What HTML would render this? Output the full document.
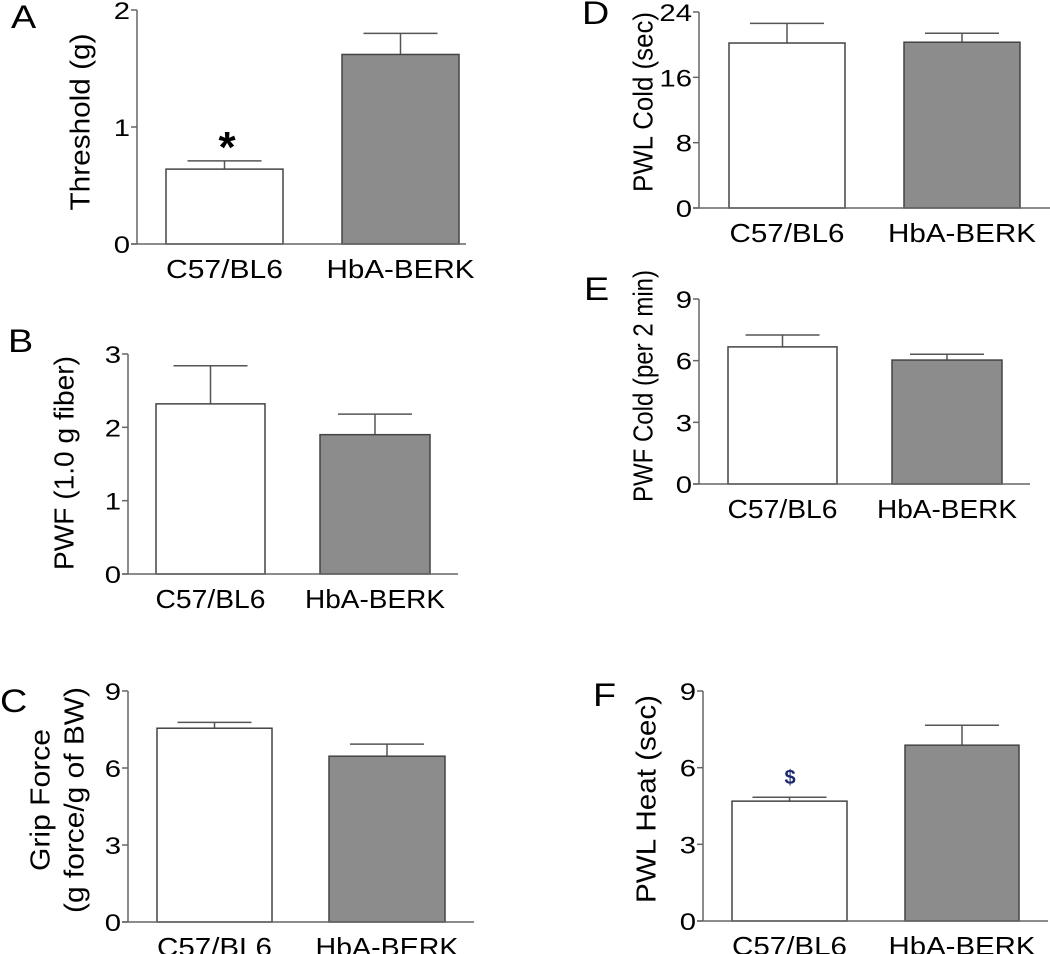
<!DOCTYPE html>
<html><head><meta charset="utf-8"><style>
html,body{margin:0;padding:0;background:#fff;}
svg{display:block;font-family:"Liberation Sans",Arial,sans-serif;}
</style></head><body>
<svg id="fig" width="1050" height="954" viewBox="0 0 1050 954"></svg>
<script>
const categories = ["C57/BL6", "HbA-BERK"];
const valuesA = [0.64, 1.62];  const errA = [0.07, 0.18];  const ticksA = [0, 1, 2];
const valuesB = [2.32, 1.90];  const errB = [0.52, 0.28];  const ticksB = [0, 1, 2, 3];
const valuesC = [7.55, 6.46];  const errC = [0.23, 0.47];  const ticksC = [0, 3, 6, 9];
const valuesD = [20.2, 20.3];  const errD = [2.4, 1.1];    const ticksD = [0, 8, 16, 24];
const valuesE = [6.67, 6.03];  const errE = [0.58, 0.28];  const ticksE = [0, 3, 6, 9];
const valuesF = [4.69, 6.88];  const errF = [0.15, 0.78];  const ticksF = [0, 3, 6, 9];

const NS = "http://www.w3.org/2000/svg";
const svg = document.getElementById("fig");
function mk(tag, attrs, parent, text) {
  const e = document.createElementNS(NS, tag);
  for (const k in attrs) e.setAttribute(k, attrs[k]);
  if (text !== undefined) e.textContent = text;
  (parent || svg).appendChild(e);
  return e;
}

function panel(cfg) {
  const g = mk("g", {});
  
  
  const ymax = cfg.ticks[cfg.ticks.length - 1];
  const y = v => cfg.y0 - (v / ymax) * (cfg.y0 - cfg.yTop);
  cfg.values.forEach((v, i) => {
    const bx = cfg.barX[i], bw = cfg.barW[i];
    const top = y(v), etop = y(v + cfg.err[i]);
    const cx = bx + bw / 2;
    const el = mk("line", {x1: cx, x2: cx, y1: top, y2: etop, stroke: "#555", "stroke-width": 1.5}, g);
    
    
    const cap = mk("line", {x1: cx - 37, x2: cx + 37, y1: etop, y2: etop, stroke: "#555", "stroke-width": 1.5}, g);
    
    
    const r = mk("rect", {x: bx, y: top, width: bw, height: cfg.y0 - top, fill: i === 0 ? "#fff" : "#8c8c8c", stroke: "#444", "stroke-width": 1.5}, g);
    
    
    const xl = mk("text", {x: cx, y: cfg.y0 + 34, "font-size": 26, "text-anchor": "middle", fill: "#000",
      textLength: cfg.lab[i], lengthAdjust: "spacingAndGlyphs"}, g, categories[i]);
    
    
  });
  const ya = mk("line", {x1: cfg.ax, x2: cfg.ax, y1: cfg.yTop, y2: cfg.y0, stroke: "#666", "stroke-width": 1.5}, g);
  
  
  const xa = mk("line", {x1: cfg.ax - 6, x2: cfg.axEnd, y1: cfg.y0, y2: cfg.y0, stroke: "#666", "stroke-width": 1.5}, g);
  
  
  cfg.ticks.forEach(t => {
    const ty = y(t);
    const tl = mk("line", {x1: cfg.ax - 6, x2: cfg.ax, y1: ty, y2: ty, stroke: "#666", "stroke-width": 1.5}, g);
    
    
    const tt = mk("text", {x: 0, y: 0, "font-size": 24, "text-anchor": "end", fill: "#000",
      transform: `translate(${cfg.ax - 7} ${ty + 9}) scale(1.22 1)`}, g, String(t));
    
    
  });
  const cy = cfg.titleY;
  cfg.title.forEach((line, k) => {
    const tx = cfg.titleX[k];
    const t = mk("text", {x: tx, y: cy, "font-size": 28, "text-anchor": "middle", fill: "#000",
      transform: `rotate(-90 ${tx} ${cy})`, "dominant-baseline": "middle",
      textLength: cfg.titleLen[k], lengthAdjust: "spacingAndGlyphs"}, g, line);
    
    
  });
  const L = mk("text", {x: 0, y: 0, "font-size": 32, fill: "#000",
    transform: `translate(${cfg.lx} ${cfg.ly}) scale(1.18 1)`}, g, cfg.letter);
  
  
  return {g, y};
}

const pA = panel({letter: "A", lx: 11, ly: 28, ax: 137, axEnd: 466, yTop: 10, y0: 244, ticks: ticksA, values: valuesA, err: errA,
  barX: [166, 342], barW: [117, 117], lab: [117, 148], title: ["Threshold (g)"], titleX: [82], titleY: 122, titleLen: [177]});
const ast = mk("text", {x: 227, y: 162, "font-size": 44, "font-weight": "bold", "text-anchor": "middle", fill: "#000"}, pA.g, "*");



panel({letter: "B", lx: 8, ly: 352, ax: 128, axEnd: 458, yTop: 354, y0: 574, ticks: ticksB, values: valuesB, err: errB,
  barX: [156, 320], barW: [109, 110], lab: [110, 140], title: ["PWF (1.0 g fiber)"], titleX: [66], titleY: 463, titleLen: [214]});

panel({letter: "C", lx: 0, ly: 712, ax: 128, axEnd: 474, yTop: 691, y0: 922, ticks: ticksC, values: valuesC, err: errC,
  barX: [157, 329], barW: [115, 116], lab: [115, 143], title: ["Grip Force", "(g force/g of BW)"], titleX: [42, 76], titleY: 800, titleLen: [142, 226]});

panel({letter: "D", lx: 582, ly: 24, ax: 699, axEnd: 1050, yTop: 12, y0: 208, ticks: ticksD, values: valuesD, err: errD,
  barX: [729, 904], barW: [116, 116], lab: [115, 148], title: ["PWL Cold (sec)"], titleX: [645], titleY: 102, titleLen: [180]});

panel({letter: "E", lx: 584, ly: 300, ax: 699, axEnd: 1030, yTop: 299, y0: 484, ticks: ticksE, values: valuesE, err: errE,
  barX: [728, 892], barW: [109, 110], lab: [110, 140], title: ["PWF Cold (per 2 min)"], titleX: [645], titleY: 386, titleLen: [232]});

const pF = panel({letter: "F", lx: 593, ly: 706, ax: 703, axEnd: 1048, yTop: 691, y0: 921, ticks: ticksF, values: valuesF, err: errF,
  barX: [732, 905], barW: [115, 114], lab: [115, 147], title: ["PWL Heat (sec)"], titleX: [648], titleY: 799, titleLen: [208]});
const dol = mk("text", {x: 790, y: 784, "font-size": 20, "font-weight": "bold", "text-anchor": "middle", fill: "#1a2a6c"}, pF.g, "$");


</script>
</body></html>
